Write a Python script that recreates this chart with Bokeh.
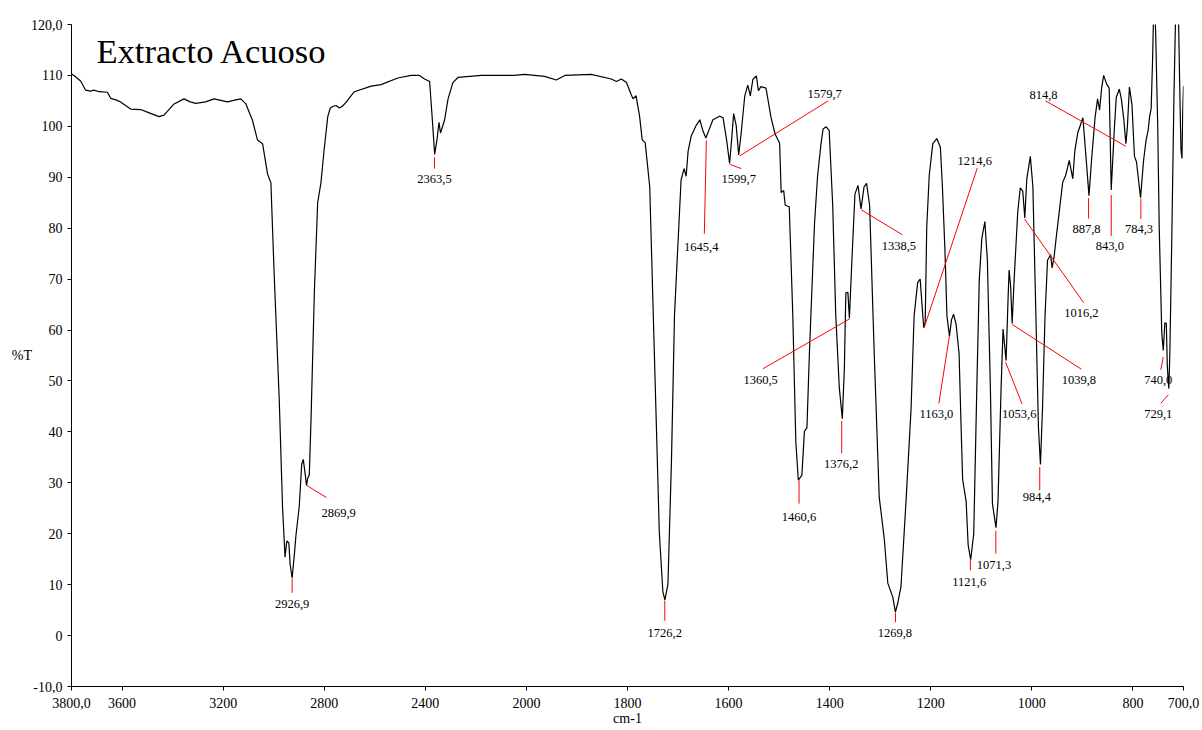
import numpy as np
from bokeh.plotting import figure
from bokeh.models import Range1d, FixedTicker, Label, ColumnDataSource
from bokeh.core.properties import value
from bokeh.embed import file_html
from bokeh.resources import INLINE

# ---------------- data ----------------
wavenumber = [
    3800, 3790, 3764, 3744, 3725, 3712, 3690, 3658, 3645, 3625, 3606, 3566, 3526, 3490,
    3454, 3434, 3394, 3355, 3330, 3308, 3270, 3236, 3183, 3150, 3130, 3110, 3084, 3064,
    3044, 3024, 3011, 2998, 2978, 2965, 2955, 2948, 2940, 2935, 2927, 2918, 2912, 2899,
    2889, 2883, 2875, 2870, 2866, 2859, 2852, 2839, 2826, 2813, 2800, 2786, 2776, 2762,
    2753, 2740, 2727, 2714, 2681, 2614, 2575, 2509, 2456, 2423, 2403, 2383, 2373, 2363,
    2353, 2346, 2340, 2324, 2310, 2291, 2271, 2178, 2050, 2007, 1964, 1941, 1924, 1872,
    1832, 1822, 1812, 1802, 1793, 1789, 1783, 1776, 1771, 1765, 1756, 1750, 1743, 1737,
    1730, 1726, 1720, 1713, 1707, 1700, 1694, 1688, 1684, 1680, 1674, 1664, 1657, 1651,
    1645, 1638, 1631, 1618, 1611, 1604, 1598, 1594, 1590, 1585, 1580, 1575, 1568, 1562,
    1557, 1552, 1545, 1541, 1536, 1526, 1516, 1508, 1499, 1496, 1491, 1488, 1480, 1473,
    1467, 1462, 1455, 1450, 1445, 1440, 1430, 1424, 1417, 1413, 1407, 1401, 1394, 1388,
    1381, 1375, 1371, 1368, 1364, 1361, 1356, 1350, 1344, 1338, 1332, 1327, 1321, 1312,
    1302, 1292, 1285, 1275, 1270, 1265, 1259, 1249, 1239, 1233, 1226, 1221, 1214, 1211,
    1208, 1203, 1196, 1188, 1181, 1177, 1172, 1168, 1163, 1159, 1155, 1150, 1144, 1140,
    1137, 1130, 1126, 1121, 1115, 1109, 1104, 1099, 1093, 1088, 1082, 1078, 1071, 1067,
    1061, 1057, 1051, 1047, 1045, 1042, 1039, 1035, 1028, 1023, 1018, 1014, 1010, 1003,
    998, 992, 987, 983, 979, 974, 969, 963, 960, 956, 952, 946, 939, 933,
    926, 919, 915, 909, 899, 893, 887, 882, 875, 870, 866, 862, 858, 852,
    847, 843, 837, 833, 827, 823, 818, 814, 811, 807, 802, 797, 793, 785,
    779, 774, 770, 767, 764, 761, 758, 755, 751, 748, 743, 740, 737, 734,
    732, 729, 727, 723, 719, 716, 713, 710, 707, 705, 703, 701.5, 700,
]
transmittance = [
    110.3, 110.0, 108.9, 107.1, 106.9, 107.1, 106.8, 106.7, 105.5, 105.2, 104.8, 103.4, 103.3, 102.6,
    101.9, 102.2, 104.4, 105.4, 104.8, 104.5, 104.8, 105.4, 104.8, 105.2, 105.4, 104.4, 101.2, 97.3,
    96.6, 90.6, 88.9, 70.9, 46.3, 25.3, 15.4, 18.6, 18.2, 14.0, 11.3, 16.0, 19.6, 25.3,
    33.7, 34.6, 31.6, 29.5, 30.8, 31.6, 42.9, 67.5, 85.0, 88.9, 95.6, 101.9, 103.6, 104.0,
    104.1, 103.6, 104.0, 104.7, 106.8, 107.9, 108.2, 109.5, 110.0, 110.0, 109.3, 108.8, 101.9, 94.5,
    97.7, 100.8, 98.7, 101.2, 105.4, 108.6, 109.6, 110.0, 110.0, 110.2, 109.8, 109.1, 110.0, 110.2,
    109.3, 108.8, 109.3, 108.6, 106.3, 105.4, 106.0, 101.9, 97.4, 96.8, 88.1, 66.6, 41.6, 20.1,
    8.6, 7.0, 10.1, 34.4, 63.0, 77.3, 89.5, 91.7, 90.2, 95.2, 98.1, 100.2, 101.3, 99.2,
    97.7, 99.5, 101.3, 102.0, 101.7, 97.4, 92.7, 97.4, 102.5, 100.2, 94.4, 98.8, 106.0, 108.1,
    106.0, 109.2, 109.9, 107.0, 107.8, 107.5, 101.7, 98.5, 96.7, 87.0, 87.4, 84.5, 84.2, 63.0,
    38.0, 30.5, 31.5, 40.1, 40.8, 55.8, 80.9, 90.2, 96.7, 99.5, 99.9, 99.2, 84.5, 63.0,
    48.7, 42.6, 52.3, 67.3, 67.4, 62.3, 73.8, 86.7, 88.4, 83.8, 88.1, 88.8, 84.5, 55.8,
    27.2, 19.0, 10.3, 7.5, 4.6, 6.5, 9.6, 26.3, 44.5, 62.7, 69.3, 70.0, 60.5, 61.6,
    80.2, 90.4, 96.6, 97.6, 95.9, 88.2, 75.8, 62.7, 58.8, 62.0, 63.1, 61.2, 55.4, 40.9,
    30.7, 26.3, 17.7, 14.9, 20.0, 48.2, 70.0, 78.0, 81.3, 73.7, 48.2, 25.9, 21.2, 26.3,
    48.2, 60.2, 54.0, 66.4, 71.8, 68.6, 61.3, 70.0, 83.1, 87.9, 87.3, 82.0, 89.7, 94.1,
    88.2, 62.7, 40.9, 33.6, 44.5, 62.7, 73.7, 74.8, 72.2, 74.4, 78.0, 83.1, 89.0, 90.4,
    93.3, 89.7, 95.2, 98.8, 101.7, 94.1, 86.4, 93.3, 101.7, 105.4, 103.2, 107.5, 110.0, 108.3,
    107.5, 87.5, 99.2, 105.7, 107.3, 105.4, 101.3, 96.6, 99.9, 107.7, 104.3, 94.1, 93.0, 86.0,
    93.3, 97.3, 99.2, 101.9, 103.5, 113.7, 128.0, 118.0, 100.0, 80.0, 59.4, 56.0, 61.4, 61.3,
    52.8, 48.5, 55.4, 79.0, 105.3, 120.0, 130.0, 122.0, 105.3, 95.4, 93.7, 103.0, 107.9,
]

x_tick_values = [3800, 3600, 3200, 2800, 2400, 2000, 1800, 1600, 1400, 1200, 1000, 800, 700]
x_tick_labels = ["3800,0", "3600", "3200", "2800", "2400", "2000", "1800", "1600",
                 "1400", "1200", "1000", "800", "700,0"]
y_tick_values = [-10, 0, 10, 20, 30, 40, 50, 60, 70, 80, 90, 100, 110, 120]
y_tick_labels = ["-10,0", "0", "10", "20", "30", "40", "50", "60", "70", "80", "90",
                 "100", "110", "120,0"]

peak_labels = ["2926,9", "2869,9", "2363,5", "1726,2", "1645,4", "1599,7", "1579,7",
               "1460,6", "1376,2", "1360,5", "1338,5", "1269,8", "1214,6", "1163,0",
               "1121,6", "1071,3", "1053,6", "1039,8", "1016,2", "984,4", "887,8",
               "843,0", "784,3", "814,8", "740,0", "729,1"]

# leader-line / label placement (wavenumber, %T)
lead_x0 = [2926.9, 2870, 2363.5, 1726.2, 1644, 1596.5, 1578, 1460.6, 1376.2, 1360.5, 1337.4,
           1269.8, 1213.4, 1163, 1121.6, 1071.3, 1052, 1039, 1014.4, 984.4, 887.8, 843,
           784.3, 814.2, 740.1, 730]
lead_y0 = [11.2, 29.5, 93.9, 6.9, 97.2, 92.5, 94.2, 30.5, 42.2, 62.2, 83.6, 4.5, 60.4, 58.9,
           14.9, 20.6, 53.7, 61.1, 81.8, 33.1, 85.9, 86.5, 85.8, 96.1, 54.7, 47.3]
lead_x1 = [2926.9, 2791, 2363.5, 1726.2, 1648, 1574.7, 1403, 1460.6, 1376.2, 1532, 1256,
           1269.8, 1108, 1184, 1121.6, 1071.3, 1019.5, 902, 897.7, 984.4, 887.8, 843,
           784.3, 973, 744.8, 745]
lead_y1 = [8.4, 27.1, 91.7, 2.9, 78.9, 91.7, 105.0, 25.9, 35.8, 52.4, 78.7, 2.6, 91.8, 45.6,
           12.8, 16.1, 45.5, 52.3, 65.4, 28.5, 81.9, 78.5, 81.8, 105.0, 52.2, 45.6]
label_x = [2926.9, 2743, 2363.5, 1726.2, 1654, 1580, 1410, 1460.6, 1377, 1536.6, 1263,
           1271, 1113, 1189, 1124, 1075, 1025, 907, 902, 990, 892, 845.7,
           788, 977, 750, 750]
label_y = [6.2, 24.0, 89.6, 0.6, 76.4, 89.6, 106.3, 23.3, 33.6, 50.1, 76.5, 0.6, 93.1, 43.6,
           10.6, 13.9, 43.6, 50.2, 63.4, 27.2, 79.8, 76.5, 79.8, 106.1, 50.1, 43.6]


def to_axis(wn):
    """Broken IR abscissa: 3800-2000 cm-1 at half the scale of 2000-700 cm-1."""
    wn = np.asarray(wn, dtype=float)
    return np.where(wn >= 2000, (3800.0 - wn) / 2.0, 900.0 + (2000.0 - wn))


FONT = "Liberation Serif"

p = figure(width=1202, height=730, x_range=Range1d(0, 2200), y_range=Range1d(-10, 120),
           output_backend="svg", toolbar_location=None,
           min_border_left=71, min_border_right=19, min_border_top=24, min_border_bottom=44)
p.grid.visible = False
p.outline_line_color = None
p.background_fill_color = "white"
p.border_fill_color = "white"

xt = [int(v) for v in to_axis(x_tick_values)]
p.xaxis.ticker = FixedTicker(ticks=xt)
p.xaxis.major_label_overrides = {t: lab for t, lab in zip(xt, x_tick_labels)}
p.yaxis.ticker = FixedTicker(ticks=y_tick_values)
p.yaxis.major_label_overrides = {t: lab for t, lab in zip(y_tick_values, y_tick_labels)}

for ax in (p.xaxis[0], p.yaxis[0]):
    ax.axis_line_color = "black"
    ax.axis_line_width = 1
    ax.major_tick_line_color = "black"
    ax.major_tick_out = 4
    ax.major_tick_in = 0
    ax.minor_tick_line_color = None
    ax.major_label_text_font = FONT
    ax.major_label_text_font_size = "14px"
    ax.major_label_text_color = "black"
    ax.axis_label_text_font = FONT
    ax.axis_label_text_font_size = "14px"
    ax.axis_label_text_font_style = "normal"
    ax.axis_label_text_color = "black"
p.xaxis.axis_label_standoff = 0
p.yaxis.axis_label_standoff = -4
p.xaxis.major_label_standoff = 7
p.yaxis.major_label_standoff = 5
p.xaxis.axis_label = "cm-1"
p.yaxis.axis_label = "%T"
p.yaxis.axis_label_orientation = "horizontal"

spec = ColumnDataSource(dict(x=to_axis(wavenumber), y=transmittance))
p.line("x", "y", source=spec, line_color="black", line_width=1.2)

leads = ColumnDataSource(dict(x0=to_axis(lead_x0), y0=lead_y0, x1=to_axis(lead_x1), y1=lead_y1))
p.segment("x0", "y0", "x1", "y1", source=leads, line_color="red", line_width=1)

labs = ColumnDataSource(dict(x=to_axis(label_x), y=label_y, text=peak_labels))
p.text("x", "y", text="text", source=labs, text_font=value(FONT),
       text_font_size=value("12.5px"), text_align="center", text_baseline="middle",
       text_color="black")

p.add_layout(Label(x=float(to_axis(3701)), y=114.8, text="Extracto Acuoso", text_font=FONT,
                   text_font_size="34.5px", text_align="left", text_baseline="alphabetic",
                   text_color="black"))

open("out.html", "w").write(file_html(p, INLINE))
